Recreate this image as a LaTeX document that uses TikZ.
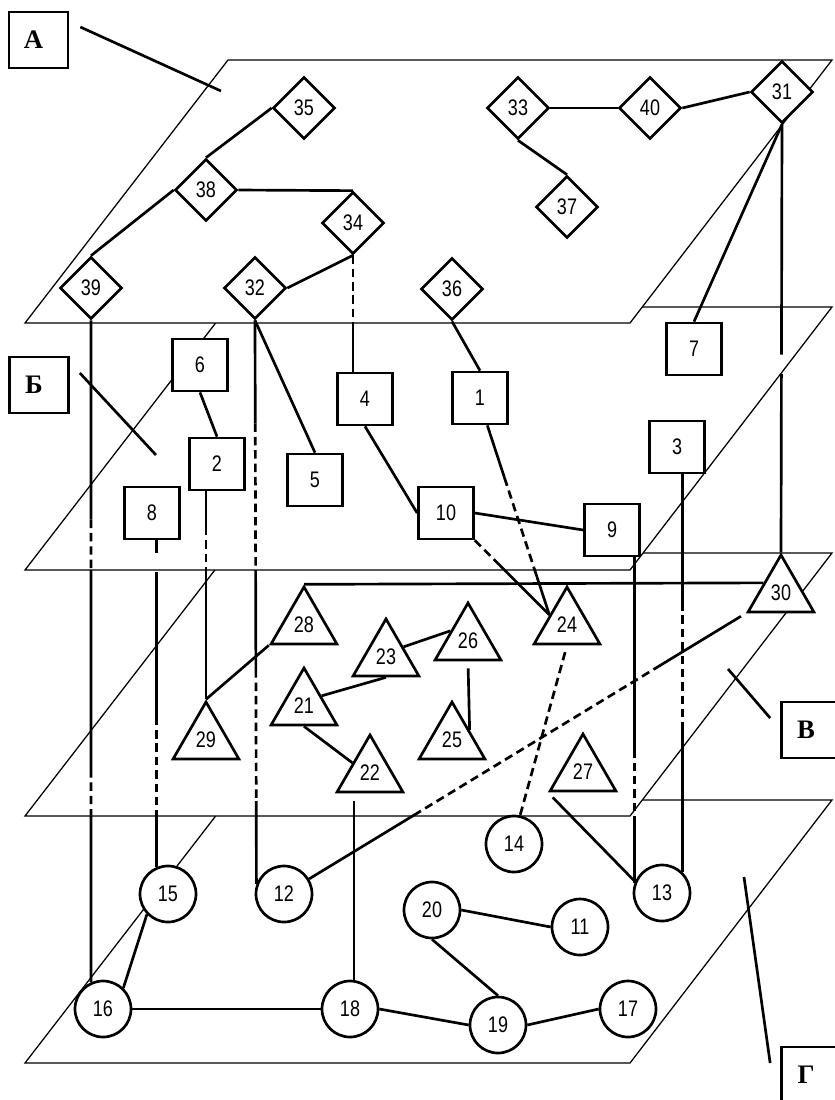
\documentclass[tikz,border=0pt]{standalone}
\usepackage{fontspec}
\setmainfont{Liberation Sans}[FakeStretch=0.8]
\newfontfamily\tagfont{Liberation Serif}
\usetikzlibrary{shapes.geometric, calc}
\newcommand{\numfont}{\fontsize{16}{18}\selectfont}

\begin{document}
\begin{tikzpicture}[
    x=0.025cm, y=-0.025cm,
    plane/.style={draw, fill=white, line width=0.9pt},
    dia/.style={diamond, draw, fill=white, line width=1.9pt, minimum width=1.55cm,
                minimum height=1.55cm, inner sep=0pt, font=\numfont},
    sq/.style={rectangle, draw, fill=white, line width=1.9pt, minimum width=1.375cm,
               minimum height=1.3cm, inner sep=0pt, font=\numfont},
    tri/.style={regular polygon, regular polygon sides=3, draw, fill=white,
                line width=1.9pt, minimum size=1.9cm, inner sep=0pt, font=\numfont},
    circ/.style={circle, draw, fill=white, line width=1.9pt, minimum size=1.4cm,
                 inner sep=0pt, font=\numfont},
    layertag/.style={rectangle, draw, fill=white, line width=1.9pt, minimum width=1.475cm,
                     minimum height=1.4cm, font=\tagfont\bfseries\fontsize{19}{22}\selectfont},
    link/.style={line width=1.9pt},
    hid/.style={line width=1.9pt, dash pattern=on 6pt off 3.5pt},
    lead/.style={line width=1.9pt}
]
\useasboundingbox (0,0) rectangle (835,1100);

% Planes (lowest first)
\foreach \yt in {800,553,307,60}
  \draw[plane] (228,\yt) -- (832,\yt) -- (630,{\yt+263}) -- (25,{\yt+263}) -- cycle;

% Layer tags
\node[layertag] (labA) at (38.5,40) {А\kern7pt};
\node[layertag] (labB) at (39,385) {Б\kern7pt};
\node[layertag] (labV) at (811,730) {В\kern7pt};
\node[layertag] (labG) at (811,1075) {Г\kern7pt};
\coordinate (pA) at (221,91);
\coordinate (pB) at (156,455);
\coordinate (pV) at (728,669);
\coordinate (pG) at (744,877);
\draw[lead] ($(labA.east)+(11,-13)$) -- (pA);
\draw[lead] ($(labB.east)+(10,-12)$) -- (pB);
\draw[lead] ($(labV.west)+(-10,-12)$) -- (pV);
\draw[lead] ($(labG.west)+(-10,-12)$) -- (pG);

% Layer A
\node[dia] (a35) at (304,108) {35};
\node[dia] (a38) at (206,190) {38};
\node[dia] (a34) at (353,223) {34};
\node[dia] (a39) at (91,288) {39};
\node[dia] (a32) at (255,288) {32};
\node[dia] (a33) at (518,108) {33};
\node[dia] (a40) at (650,108) {40};
\node[dia] (a31) at (782,92) {31};
\node[dia] (a37) at (567,207) {37};
\node[dia] (a36) at (452,289) {36};

% Layer B
\node[sq] (b6) at (200,365) {6};
\node[sq] (b2) at (217,464) {2};
\node[sq] (b8) at (152,513) {8};
\node[sq] (b5) at (315,480) {5};
\node[sq] (b4) at (365,399) {4};
\node[sq] (b1) at (480,398) {1};
\node[sq] (b7) at (694,349) {7};
\node[sq] (b3) at (677,447) {3};
\node[sq] (b10) at (446,513) {10};
\node[sq] (b9) at (612,530) {9};

% Layer V
\node[tri] (v30) at (781,593) {30};
\node[tri] (v28) at (304,625) {28};
\node[tri] (v23) at (386,657) {23};
\node[tri] (v21) at (304,706) {21};
\node[tri] (v29) at (206,740) {29};
\node[tri] (v22) at (370,773) {22};
\node[tri] (v26) at (468,641) {26};
\node[tri] (v25) at (452,740) {25};
\node[tri] (v24) at (567,625) {24};
\node[tri] (v27) at (583,772) {27};

% Layer G
\node[circ] (g15) at (168,894) {15};
\node[circ] (g12) at (284,894) {12};
\node[circ] (g14) at (514,844) {14};
\node[circ] (g13) at (662,893) {13};
\node[circ] (g20) at (432,910) {20};
\node[circ] (g11) at (580,927) {11};
\node[circ] (g17) at (628,1009) {17};
\node[circ] (g19) at (498,1025) {19};
\node[circ] (g16) at (103,1009) {16};
\node[circ] (g18) at (350,1009) {18};

% Links inside layers
\draw[link] (a35.west) -- (a38.north);
\draw[link] (a38.west) -- (a39.north);
\draw[link] (a38.east) -- (a34.north);
\draw[link] (a34.south) -- (a32.east);
\draw[link] (a33.east) -- (a40.west);
\draw[link] (a40.east) -- (a31.west);
\draw[link] (a33.south) -- (a37.north);
\draw[link] (b6.south) -- (b2.north);
\draw[link] (b4.south) -- (b10.west);
\draw[link] (b10.east) -- (b9.west);
\draw[link] (v28.corner 1) -- (v30.side 1);
\draw[link] (v28.corner 2) -- (v29.corner 1);
\draw[link] (v21.side 3) -- (v23.south);
\draw[link] (v23.side 3) -- (v26.side 1);
\draw[link] (v21.south) -- (v22.side 1);
\draw[link, shorten <=5pt] (v26.south) -- (v25.side 3);
\draw[link] (g15.224) -- (g16.46);
\draw[link] (g16.east) -- (g18.west);
\draw[link] (g18.east) -- (g19.west);
\draw[link] (g19.east) -- (g17.west);
\draw[link] (g20.east) -- (g11.west);
\draw[link] (g20.south) -- (g19.north);

% Links between layers
\draw[link] (a31.south) -- (b7.north);
\draw[link] (a32.south) -- (b5.north);
\draw[link] (a36.south) -- (b1.north);
\draw[link] ($(v22.south -| g18.82)+(0,8)$) -- (g18.82);
\draw[link, shorten <=5pt] (v27.corner 2) -- (g13.157);
\draw[hid, shorten <=5pt] (v24.south) -- (g14.78);

\path (a34.south) -- coordinate[pos=.58] (k1) (b4.north -| a34.south);
\draw[hid] (a34.south) -- (k1);
\draw[link] (k1) -- (b4.north -| a34.south);

\path (a31.south) -- coordinate[pos=.538] (k1) coordinate[pos=.583] (k2) (v30.corner 1);
\draw[link] (a31.south) -- (k1) (k2) -- (v30.corner 1);

\path (a39.south) -- coordinate[pos=.301] (k1) coordinate[pos=.377] (k2)
  coordinate[pos=.678] (k3) coordinate[pos=.748] (k4) (g16.114);
\draw[link] (a39.south) -- (k1) (k2) -- (k3) (k4) -- (g16.114);
\draw[hid] (k1) -- (k2) (k3) -- (k4);

\path (a32.south) -- coordinate[pos=.183] (k1) coordinate[pos=.443] (k2)
  coordinate[pos=.619] (k3) coordinate[pos=.853] (k4) (g12.160);
\draw[link] (a32.south) -- (k1) (k2) -- (k3) (k4) -- (g12.160);
\draw[hid] (k1) -- (k2) (k3) -- (k4);

\path (b2.south -| v29.corner 1) -- coordinate[pos=.171] (k1) coordinate[pos=.376] (k2)
  (v29.corner 1);
\draw[link] (b2.south -| v29.corner 1) -- (k1) (k2) -- (v29.corner 1);
\draw[hid] (k1) -- (k2);

\path (b8.south -| g15.113) -- coordinate[pos=.04] (k1) coordinate[pos=.098] (k2)
  coordinate[pos=.54] (k3) coordinate[pos=.845] (k4) (g15.113);
\draw[link] (b8.south -| g15.113) -- (k1) (k2) -- (k3) (k4) -- (g15.113);
\draw[hid] (k3) -- (k4);

\path (b9.south -| g13.160) -- coordinate[pos=.589] (k1) coordinate[pos=.794] (k2)
  (g13.160);
\draw[link] (b9.south -| g13.160) -- (k1) (k2) -- (g13.160);
\draw[hid] (k1) -- (k2);

\path (b3.south -| g13.north east) -- coordinate[pos=.321] (k1) coordinate[pos=.627] (k2)
  (g13.north east);
\draw[link] (b3.south -| g13.north east) -- (k1) (k2) -- (g13.north east);
\draw[hid] (k1) -- (k2);

\path (b1.285) -- coordinate[pos=.277] (k1) coordinate[pos=.752] (k2) (v24.side 1);
\draw[link] (b1.285) -- (k1) (k2) -- (v24.side 1);
\draw[hid] (k1) -- (k2);

\path (b10.south east) -- coordinate[pos=.31] (k1) (v24.side 1);
\draw[hid] (b10.south east) -- (k1);
\draw[link] (k1) -- (v24.side 1);

\path (v30.corner 2) -- coordinate[pos=.195] (k1) coordinate[pos=.745] (k2) (g12.31);
\draw[link, shorten <=4pt] (v30.corner 2) -- (k1);
\draw[hid] (k1) -- (k2);
\draw[link] (k2) -- (g12.31);
\end{tikzpicture}
\end{document}
